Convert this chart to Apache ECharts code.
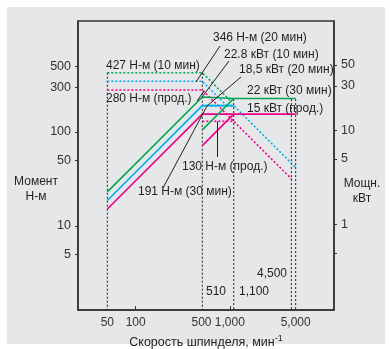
<!DOCTYPE html>
<html lang="ru">
<head>
    <meta charset="UTF-8">
    <title>Spindle output</title>
    <script src="https://cdn.jsdelivr.net/npm/echarts@6/dist/echarts.min.js"></script>
    <style>
        html, body { margin: 0; padding: 0; background: #fff; }
        #chart { width: 390px; height: 349px; }
    </style>
</head>
<body>
<div id="chart"></div>

<script>
    // оси
    var xTicks = [100, 1000];
    var xLabels = [50, 100, 500, 1000, 5000];
    var torqueTicks = [5, 10, 50, 100, 300, 500];
    var powerTicks = [0.5, 1, 5, 10, 30, 50];
    var powerLabels = [1, 5, 10, 30, 50];
    var xMin = 24.4, xMax = 12770;
    var tMin = 1.28, tMax = 1515;
    var pMin = 0.124, pMax = 146.8;

    // момент, Н-м (пунктир)
    var torque10 = [[50, 427], [510, 427], [1000, 218]];
    var torque20 = [[50, 346], [510, 346], [925, 191]];
    var torqueCont = [[50, 280], [510, 280], [4500, 31.8]];
    var torque30 = [[510, 191], [1100, 191], [5000, 42]];
    var torqueContHigh = [[510, 130], [1100, 130]];

    // мощность, кВт (сплошные)
    var power10 = [[50, 2.24], [510, 22.8], [1100, 22]];
    var power20 = [[50, 1.81], [510, 18.5], [1100, 18.5]];
    var powerCont = [[50, 1.47], [510, 15], [5000, 15]];
    var power30 = [[510, 10.2], [1100, 22], [5000, 22]];
    var powerContHigh = [[510, 6.94], [1100, 15]];

    // вертикальные линии: скорость и верхний момент
    var guideSpeeds = [50, 510, 1100, 4500, 5000];
    var guideTops = [427, 427, 224, 224, 224];

    var GREEN = '#00a651', BLUE = '#00aeef', PINK = '#ec008c', INK = '#231f20';
    var FONT = '"Liberation Sans", Arial, sans-serif';

    function solid(data, color, axis) {
        return { type: 'line', data: data, yAxisIndex: axis, symbol: 'none', silent: true,
            lineStyle: { color: color, width: 1.6 }, z: 3 };
    }
    function dotted(data, color, axis) {
        return { type: 'line', data: data, yAxisIndex: axis, symbol: 'none', silent: true,
            lineStyle: { color: color, width: 1.6, type: [2, 2] }, z: 2 };
    }

    var series = [];
    guideSpeeds.forEach(function (s, i) {
        series.push({ type: 'line', data: [[s, guideTops[i]], [s, tMin]], symbol: 'none', silent: true,
            lineStyle: { color: INK, width: 1, type: [2, 2] }, z: 1 });
    });
    series.push(dotted(torque10, GREEN, 0), dotted(torque20, BLUE, 0), dotted(torqueCont, PINK, 0),
        dotted(torque30, BLUE, 0), dotted(torqueContHigh, PINK, 0));
    series.push(solid(power10, GREEN, 1), solid(power20, BLUE, 1), solid(powerCont, PINK, 1),
        solid(power30, GREEN, 1), solid(powerContHigh, PINK, 1));

    function txt(x, y, s, align) {
        return { type: 'text', x: x, y: y, silent: true, z: 10,
            style: { text: s, font: '12px ' + FONT, fill: INK, align: align || 'left', verticalAlign: 'middle' } };
    }
    function ptr(x1, y1, x2, y2) {
        return { type: 'line', silent: true, z: 10,
            shape: { x1: x1, y1: y1, x2: x2, y2: y2 }, style: { stroke: INK, lineWidth: 1 } };
    }

    var chart = echarts.init(document.getElementById('chart'));
    chart.setOption({
        animation: false,
        backgroundColor: '#fff',
        grid: { left: 78, right: 56, top: 21, bottom: 39, show: true, borderColor: '#333', borderWidth: 1.5,
            outerBoundsMode: 'none' },
        xAxis: {
            type: 'log', min: xMin, max: xMax,
            axisLine: { lineStyle: { color: '#333', width: 1.5 } },
            axisTick: { inside: true, length: 4, customValues: xTicks, lineStyle: { color: '#333' } },
            axisLabel: { customValues: xLabels, margin: 7, color: '#333', fontSize: 12, fontFamily: FONT,
                formatter: function (v) { return Number(v).toLocaleString('en-US'); } },
            splitLine: { show: false },
            name: '{a|Скорость шпинделя, мин}{s|-1}', nameLocation: 'middle', nameGap: 21,
            nameTextStyle: { rich: {
                a: { fontSize: 12.5, color: INK, fontFamily: FONT },
                s: { fontSize: 9, color: INK, fontFamily: FONT, verticalAlign: 'top', padding: [0, 0, 8, 0] }
            } }
        },
        yAxis: [{
            type: 'log', min: tMin, max: tMax, position: 'left',
            axisLine: { show: true, lineStyle: { color: '#333', width: 1.5 } },
            axisTick: { show: true, length: 3, customValues: torqueTicks, lineStyle: { color: '#333' } },
            axisLabel: { customValues: torqueTicks, margin: 7, color: '#333', fontSize: 12.5, fontFamily: FONT },
            splitLine: { show: false }
        }, {
            type: 'log', min: pMin, max: pMax, position: 'right',
            axisLine: { show: true, lineStyle: { color: '#333', width: 1.5 } },
            axisTick: { show: true, length: 3, customValues: powerTicks, lineStyle: { color: '#333' } },
            axisLabel: { customValues: powerLabels, margin: 7, color: '#333', fontSize: 12.5, fontFamily: FONT },
            splitLine: { show: false }
        }],
        graphic: [
            { type: 'rect', z: -10, silent: true, shape: { x: 7, y: 7, width: 378, height: 337 },
                style: { fill: '#e6e7e8' } },
            txt(106, 65.5, '427 Н-м (10 мин)'),
            txt(106, 99, '280 Н-м (прод.)'),
            txt(213, 38, '346 Н-м (20 мин)'),
            txt(224, 55, '22.8 кВт (10 мин)'),
            txt(239, 70, '18,5 кВт (20 мин)'),
            txt(247, 91, '22 кВт (30 мин)'),
            txt(247, 109, '15 кВт (прод.)'),
            txt(182, 167, '130 Н-м (прод.)'),
            txt(138, 192, '191 Н-м (30 мин)'),
            txt(206, 292, '510'),
            txt(239, 292, '1,100'),
            txt(257, 274, '4,500'),
            txt(36, 182, 'Момент', 'center'),
            txt(36, 197, 'Н-м', 'center'),
            txt(362, 184, 'Мощн.', 'center'),
            txt(362, 199, 'кВт', 'center'),
            ptr(220, 46, 196, 82),
            ptr(229, 61, 202, 97),
            ptr(241, 77, 207, 106),
            ptr(197, 101, 204, 91),
            ptr(217.5, 121.5, 217.5, 157),
            ptr(163, 188, 207, 106)
        ],
        series: series
    });
</script>
</body>
</html>
